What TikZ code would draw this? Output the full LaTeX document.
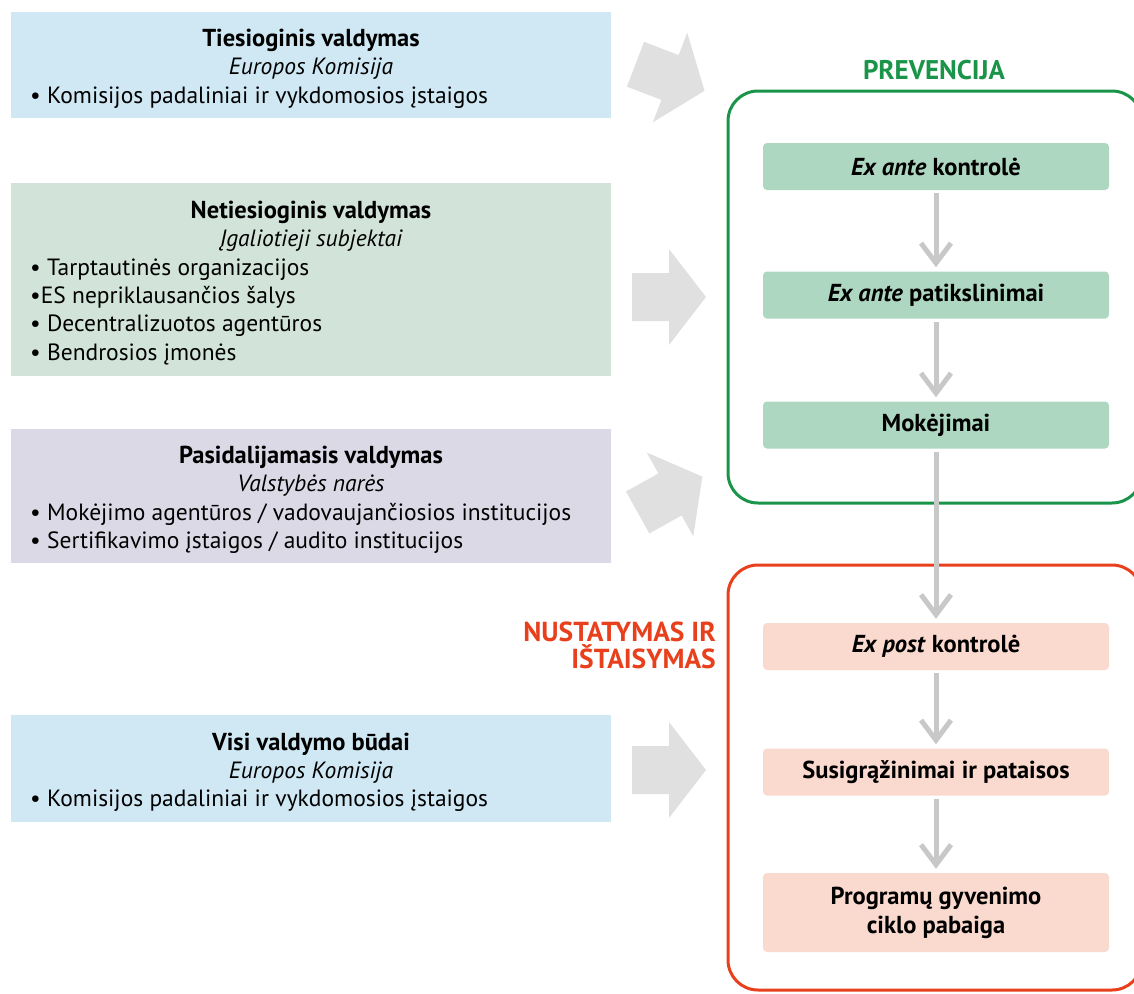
\documentclass[tikz,border=0pt]{standalone}
\usepackage{fontspec}
\setmainfont{PT Sans}
\usetikzlibrary{arrows.meta,positioning}
\definecolor{boxblue}{HTML}{CFE8F3}
\definecolor{boxgreen}{HTML}{D2E3DA}
\definecolor{boxlilac}{HTML}{DCD9E6}
\definecolor{stepgreen}{HTML}{ADD7C0}
\definecolor{steppink}{HTML}{FAD9CF}
\definecolor{framegreen}{HTML}{1A9448}
\definecolor{framered}{HTML}{E8401C}
\definecolor{bigarrow}{HTML}{E0E0E0}
\definecolor{flowgray}{HTML}{C8C8C8}
\newcommand{\txtsize}{\fontsize{23.5}{28}\selectfont}
\newcommand{\boldsize}{\fontsize{24.5}{29}\selectfont}

\begin{document}
\begin{tikzpicture}[x=1pt, y=-1pt,
    modebox/.style={fill=#1, inner sep=0pt, minimum width=600pt, anchor=north west},
    modetitle/.style={anchor=base, inner sep=0pt, font=\boldsize\bfseries},
    modesub/.style={anchor=base, inner sep=0pt, font=\txtsize\itshape},
    modeitem/.style={anchor=base west, inner sep=0pt, font=\txtsize},
    ctrlbox/.style={fill=#1, rounded corners=4pt, minimum width=346pt, minimum height=47pt,
      inner sep=0pt, align=center, font=\boldsize\bfseries},
    flowarrow/.style={draw=flowgray, line width=5pt, shorten <=3pt, shorten >=4pt,
      -{Straight Barb[length=20pt,width=30pt]}},
    bigarr/.pic={\fill[bigarrow] (-37,-24) -- (0,-24) -- (0,-48) -- (37,0) -- (0,48) -- (0,24) -- (-37,24) -- cycle;}]
  \useasboundingbox (0,0) rectangle (1134,993);
  \clip (0,0) rectangle (1134,993);

  % Direct management
  \node[modebox=boxblue, minimum height=106pt] (direct) at (11,12) {};
  \node[modetitle] (directtitle) at (311,46) {Tiesioginis valdymas};
  \node[modesub] (directsub) at (311,74) {Europos Komisija};
  \node[modeitem] (directa) at (30,103) {• Komisijos padaliniai ir vykdomosios įstaigos};

  % Indirect management
  \node[modebox=boxgreen, minimum height=193pt] (indirect) at (11,183) {};
  \node[modetitle] (indirecttitle) at (311,218) {Netiesioginis valdymas};
  \node[modesub] (indirectsub) at (311,246) {Įgaliotieji subjektai};
  \node[modeitem] (indirecta) at (30,275) {• Tarptautinės organizacijos};
  \node[modeitem] (indirectb) at (30,303) {•ES nepriklausančios šalys};
  \node[modeitem] (indirectc) at (30,331) {• Decentralizuotos agentūros};
  \node[modeitem] (indirectd) at (30,360) {• Bendrosios įmonės};

  % Shared management
  \node[modebox=boxlilac, minimum height=134pt] (shared) at (11,429) {};
  \node[modetitle] (sharedtitle) at (311,463) {Pasidalijamasis valdymas};
  \node[modesub] (sharedsub) at (311,491) {Valstybės narės};
  \node[modeitem] (shareda) at (30,520) {• Mokėjimo agentūros / vadovaujančiosios institucijos};
  \node[modeitem] (sharedb) at (30,548) {• Sertifikavimo įstaigos / audito institucijos};

  % All modes
  \node[modebox=boxblue, minimum height=107pt] (allmodes) at (11,715) {};
  \node[modetitle] (allmodestitle) at (311,750) {Visi valdymo būdai};
  \node[modesub] (allmodessub) at (311,778) {Europos Komisija};
  \node[modeitem] (allmodesa) at (30,806) {• Komisijos padaliniai ir vykdomosios įstaigos};

  % Big grey arrows
  \pic[rotate=-21] at (670,77.5) {bigarr};
  \pic at (669,297) {bigarr};
  \pic[rotate=29] at (670,494.5) {bigarr};
  \pic at (669,770) {bigarr};

  % Frames
  \draw[framegreen, line width=3pt, rounded corners=30pt] (728,91) rectangle (1142,503);
  \node[text=framegreen, font=\fontsize{27}{31}\selectfont\bfseries] (prevlabel) at (934,70) {PREVENCIJA};
  \draw[framered, line width=3pt, rounded corners=30pt] (728,565) rectangle (1142,990);
  \node[text=framered, font=\fontsize{27.5}{27}\selectfont\bfseries, align=right, anchor=east,
    inner sep=0pt] (detlabel) at (716,645) {NUSTATYMAS IR\\IŠTAISYMAS};

  % Control steps
  \node[ctrlbox=stepgreen] (exante) at (936,166.5) {\textit{Ex ante} kontrolė};
  \node[ctrlbox=stepgreen] (clarif) at (936,295) {\textit{Ex ante} patikslinimai};
  \node[ctrlbox=stepgreen] (payments) at (936,425) {Mokėjimai};
  \node[ctrlbox=steppink] (expost) at (936,646.5) {\textit{Ex post} kontrolė};
  \node[ctrlbox=steppink] (recover) at (936,772) {Susigrąžinimai ir pataisos};
  \node[ctrlbox=steppink, minimum height=79pt] (closure) at (936,912.5) {Programų gyvenimo\\ciklo pabaiga};

  \draw[flowarrow] (exante) -- (clarif);
  \draw[flowarrow] (clarif) -- (payments);
  \draw[flowarrow] (payments) -- (expost);
  \draw[flowarrow] (expost) -- (recover);
  \draw[flowarrow] (recover) -- (closure);
\end{tikzpicture}
\end{document}
